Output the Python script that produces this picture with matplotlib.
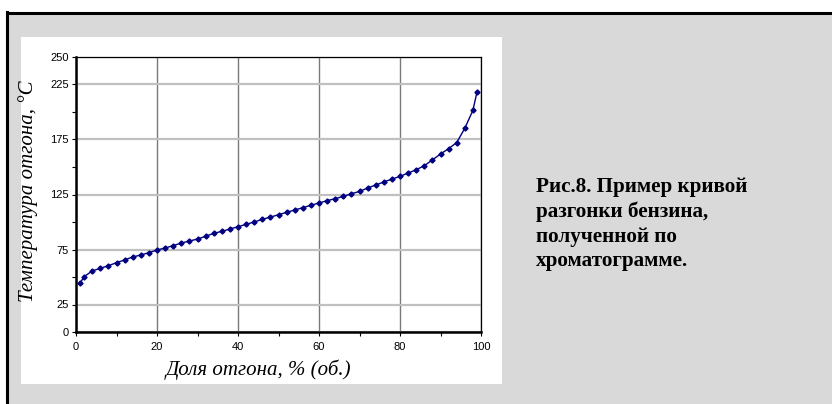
import matplotlib
matplotlib.use("Agg")
import matplotlib.pyplot as plt
from matplotlib.patches import Rectangle
from matplotlib.lines import Line2D
from matplotlib.ticker import FixedLocator

# ---- data ----
distilled_pct = [1, 2, 4, 6, 8, 10, 12, 14, 16, 18, 20, 22, 24, 26, 28, 30, 32, 34,
                 36, 38, 40, 42, 44, 46, 48, 50, 52, 54, 56, 58, 60, 62, 64, 66, 68,
                 70, 72, 74, 76, 78, 80, 82, 84, 86, 88, 90, 92, 94, 96, 98, 99]
temperature_c = [44.3, 50.3, 55.5, 57.9, 60.3, 63.0, 65.5, 68.2, 70.0, 72.1, 74.5,
                 76.4, 78.5, 80.9, 82.7, 84.5, 87.0, 89.7, 91.5, 93.6, 95.7, 97.9,
                 100.0, 102.4, 104.5, 106.6, 108.8, 110.9, 113.0, 115.2, 117.3, 119.4,
                 121.2, 123.3, 125.7, 127.8, 130.9, 133.6, 136.4, 139.0, 141.5, 144.5,
                 147.5, 151.2, 156.4, 161.8, 166.7, 172.2, 185.2, 201.5, 218.0]
y_major_ticks = [0, 25, 75, 125, 175, 225, 250]
y_minor_ticks = [50, 100, 150, 200]
x_major_ticks = [0, 20, 40, 60, 80, 100]
x_minor_ticks = [10, 30, 50, 70, 90]
x_label = "Доля отгона, % (об.)"
y_label = "Температура отгона, °C"
caption = "Рис.8. Пример кривой\nразгонки бензина,\nполученной по\nхроматограмме."

W, H = 832, 404
fig = plt.figure(figsize=(W / 100, H / 100), dpi=100)
fig.patch.set_facecolor("white")

def fx(px):
    return px / W

def fy(py):
    return 1 - py / H

# grey panel
fig.patches.append(Rectangle((fx(6.5), 0), 1 - fx(6.5), fy(13),
                             transform=fig.transFigure, facecolor="#d9d9d9",
                             edgecolor="none", zorder=0))
# black frame lines (top & left)
fig.lines.append(Line2D([fx(6.5), 1.0], [fy(13), fy(13)], transform=fig.transFigure,
                        color="black", linewidth=2.2, zorder=1))
fig.lines.append(Line2D([fx(6.5), fx(6.5)], [0.0, fy(12)], transform=fig.transFigure,
                        color="black", linewidth=2.2, zorder=1))
# white chart area
fig.patches.append(Rectangle((fx(21), fy(384)), fx(502) - fx(21), fy(37) - fy(384),
                             transform=fig.transFigure, facecolor="white",
                             edgecolor="none", zorder=1))

ax = fig.add_axes([fx(76), fy(332), fx(481) - fx(76), fy(57) - fy(332)])
ax.set_facecolor("white")
ax.set_zorder(2)

ax.plot(distilled_pct, temperature_c, color="#000080", linewidth=1.0,
        marker="D", markersize=2.6, markerfacecolor="#000080",
        markeredgecolor="#000080", zorder=3)

ax.set_xlim(0, 100)
ax.set_ylim(0, 250)
ax.yaxis.set_major_locator(FixedLocator(y_major_ticks))
ax.yaxis.set_minor_locator(FixedLocator(y_minor_ticks))
ax.xaxis.set_major_locator(FixedLocator(x_major_ticks))
ax.xaxis.set_minor_locator(FixedLocator(x_minor_ticks))

ax.xaxis.grid(True, which="major", color="#7a7a7a", linewidth=1.0)
ax.yaxis.grid(True, which="major", color="#c0c0c0", linewidth=1.6)
ax.set_axisbelow(True)

ax.tick_params(axis="both", which="both", direction="out", length=3, width=0.8,
               color="black")
ax.tick_params(axis="y", which="major", pad=2)
ax.tick_params(axis="x", which="major", pad=4)
for lbl in ax.get_xticklabels() + ax.get_yticklabels():
    lbl.set_fontfamily("Liberation Sans")
    lbl.set_fontsize(8)

for side in ["left", "bottom"]:
    ax.spines[side].set_linewidth(1.8)
for side in ["top", "right"]:
    ax.spines[side].set_linewidth(0.9)
for s in ax.spines.values():
    s.set_color("black")
    s.set_zorder(4)

ax.set_xlabel(x_label, fontfamily="Liberation Serif", fontstyle="italic", fontsize=15)
ax.xaxis.set_label_coords((258 - 76) / 405, (332 - 370) / 275)
ax.xaxis.label.set_verticalalignment("center")
ax.set_ylabel(y_label, fontfamily="Liberation Serif", fontstyle="italic", fontsize=15)
ax.yaxis.set_label_coords((28 - 76) / 405, (332 - 191) / 275)
ax.yaxis.label.set_verticalalignment("center")

fig.text(fx(536), fy(177), caption, fontfamily="Liberation Serif", fontweight="bold",
         fontsize=15.2, ha="left", va="top", linespacing=1.3, zorder=5)

fig.savefig("out.png", dpi=100)
